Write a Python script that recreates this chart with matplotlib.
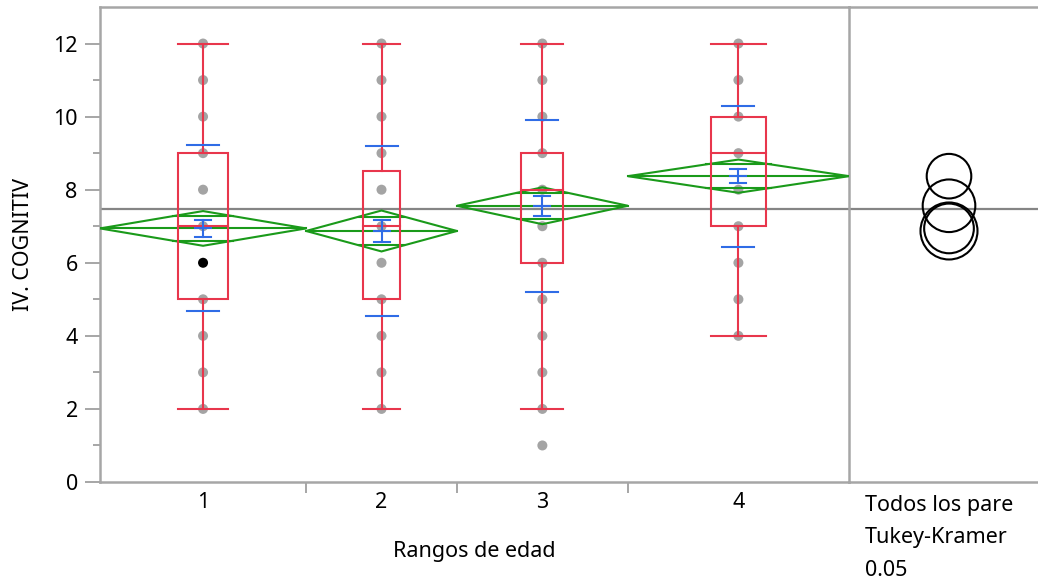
import matplotlib
matplotlib.use("Agg")
import matplotlib.pyplot as plt
from matplotlib.patches import Rectangle, Polygon, Circle
import numpy as np

plt.rcParams['font.family'] = ['Noto Sans', 'DejaVu Sans']

# ---------------- data ----------------
groups = ['1', '2', '3', '4']
group_n = [41, 30, 34, 44]               # relative group sizes (x widths)
points = [
    [12, 11, 10, 9, 8, 7, 6, 5, 4, 3, 2],
    [12, 11, 10, 9, 8, 7, 6, 5, 4, 3, 2],
    [12, 11, 10, 9, 8, 7, 6, 5, 4, 3, 2, 1],
    [12, 11, 10, 9, 8, 7, 6, 5, 4],
]
highlight_group = 0
highlight_value = 6
whisker_low = [2, 2, 2, 4]
q1 = [5, 5, 6, 7]
median = [7, 7, 8, 9]
q3 = [9, 8.5, 9, 10]
whisker_high = [12, 12, 12, 12]
means = [6.94, 6.87, 7.56, 8.37]
ci_half = [0.475, 0.56, 0.505, 0.455]
sd = [2.27, 2.33, 2.355, 1.925]
se = [0.24, 0.29, 0.275, 0.19]
grand_mean = 7.48
circle_radius = [0.68, 0.78, 0.72, 0.61]
circle_order = [1, 0, 2, 3]

xlabel = 'Rangos de edad'
ylabel = 'IV. COGNITIV'
yticks_major = [0, 2, 4, 6, 8, 10, 12]
right_texts = ['Todos los pare', 'Tukey-Kramer', '0.05']

# ---------------- style ----------------
RED = '#E8364C'
BLUE = '#2F6CE6'
GREEN = '#1A9A1A'
DOT = '#A4A4A4'
FRAME = '#A6A6A6'
MEANLINE = '#858585'
FS = 15.5

W, H = 1038, 583
fig = plt.figure(figsize=(W / 100, H / 100), dpi=100)

ax_l, ax_r, ax_b, ax_t = 100, 849, 482, 7
axc = fig.add_axes([ax_r / W, 1 - ax_b / H, (W - ax_r) / W, (ax_b - ax_t) / H])
ax = fig.add_axes([ax_l / W, 1 - ax_b / H, (ax_r - ax_l) / W, (ax_b - ax_t) / H])
ax.patch.set_visible(False)
axc.patch.set_visible(False)

ymax = 13.0
ax.set_ylim(0, ymax)
axc.set_ylim(0, ymax)
edges = np.concatenate([[0], np.cumsum(group_n)])
centers = (edges[:-1] + edges[1:]) / 2
ax.set_xlim(edges[0], edges[-1])
px_per_x = (ax_r - ax_l) / (edges[-1] - edges[0])

box_frac = 0.245
sd_w = 32 / px_per_x
se_w = 16 / px_per_x
lw = 1.5

ax.axhline(grand_mean, color=MEANLINE, lw=1.6, zorder=1)
axc.axhline(grand_mean, color=MEANLINE, lw=1.6, zorder=1)

for i in range(len(groups)):
    c = centers[i]
    gw = group_n[i]
    # points
    vals = points[i]
    cols = ['black' if (i == highlight_group and v == highlight_value) else DOT for v in vals]
    ax.scatter([c] * len(vals), vals, s=52, c=cols, zorder=2, linewidths=0)
    # means diamond
    x0, x1 = edges[i], edges[i + 1]
    m, h = means[i], ci_half[i]
    ax.add_patch(Polygon([[x0, m], [c, m + h], [x1, m], [c, m - h]], closed=True,
                         fill=False, edgecolor=GREEN, lw=lw, zorder=3))
    ax.plot([x0, x1], [m, m], color=GREEN, lw=lw, zorder=3)
    k = 1 / np.sqrt(2)
    half = (gw / 2) * (1 - k)
    for s in (1, -1):
        ax.plot([c - half, c + half], [m + s * h * k] * 2, color=GREEN, lw=lw, zorder=3)
    # box plot
    bw = gw * box_frac
    ax.add_patch(Rectangle((c - bw / 2, q1[i]), bw, q3[i] - q1[i], fill=False,
                           edgecolor=RED, lw=lw, zorder=4))
    ax.plot([c - bw / 2, c + bw / 2], [median[i]] * 2, color=RED, lw=lw, zorder=4)
    ax.plot([c, c], [q3[i], whisker_high[i]], color=RED, lw=lw, zorder=4)
    ax.plot([c, c], [whisker_low[i], q1[i]], color=RED, lw=lw, zorder=4)
    for wv in (whisker_low[i], whisker_high[i]):
        ax.plot([c - bw / 2, c + bw / 2], [wv, wv], color=RED, lw=lw, zorder=4)
    # std dev lines
    for s in (1, -1):
        ax.plot([c - sd_w / 2, c + sd_w / 2], [m + s * sd[i]] * 2, color=BLUE, lw=lw, zorder=5)
    # std error bar
    ax.plot([c, c], [m - se[i], m + se[i]], color=BLUE, lw=lw, zorder=5)
    for v in (m - se[i], m, m + se[i]):
        ax.plot([c - se_w / 2, c + se_w / 2], [v, v], color=BLUE, lw=lw, zorder=5)

# axes styling (main)
for sp in ['top', 'left', 'bottom', 'right']:
    ax.spines[sp].set_color(FRAME)
    ax.spines[sp].set_linewidth(1.8)
ax.set_yticks(yticks_major)
ax.set_yticks(np.arange(1, 13, 2), minor=True)
ax.set_xticks(centers)
ax.set_xticklabels(groups)
ax.set_xticks(edges[1:-1], minor=True)
ax.tick_params(axis='y', which='major', length=11, width=1.4, color=FRAME, labelsize=FS, pad=5)
ax.tick_params(axis='y', which='minor', length=5, width=1.4, color=FRAME)
ax.tick_params(axis='x', which='major', length=0, labelsize=FS, pad=7)
ax.tick_params(axis='x', which='minor', length=8, width=1.4, color=FRAME)
ax.set_xlabel(xlabel, fontsize=FS, labelpad=20)
ax.set_ylabel(ylabel, fontsize=FS, labelpad=14)

# comparison circles panel
panel_w_px = W - ax_r
py_per_y = (ax_b - ax_t) / ymax
axc.set_xlim(0, panel_w_px / py_per_y)
cx = (949 - ax_r) / py_per_y
for i in circle_order:
    axc.add_patch(Circle((cx, means[i]), circle_radius[i], fill=False,
                         edgecolor='black', lw=1.5, zorder=3))
for sp in ['left', 'right']:
    axc.spines[sp].set_visible(False)
for sp in ['top', 'bottom']:
    axc.spines[sp].set_color(FRAME)
    axc.spines[sp].set_linewidth(1.8)
axc.set_xticks([])
axc.set_yticks([])

for j, t in enumerate(right_texts):
    fig.text(865 / W, 1 - (511 + j * 32.5) / H, t, fontsize=FS, ha='left', va='baseline')

fig.savefig('out.png', dpi=100)
